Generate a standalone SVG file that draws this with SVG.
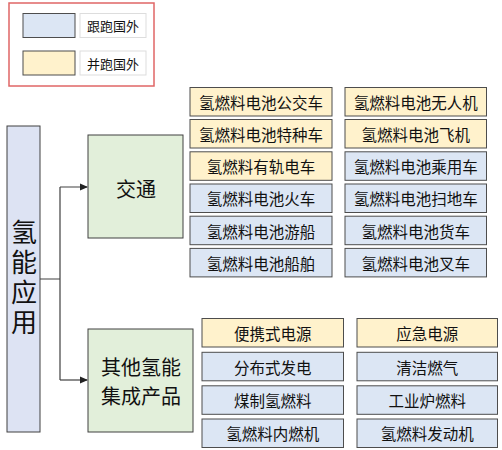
<svg xmlns="http://www.w3.org/2000/svg" width="502" height="450" viewBox="0 0 502 450">
<defs>
<style>
text{font-family:"Noto Sans CJK SC","Liberation Sans",sans-serif;fill:#111;text-anchor:middle;dominant-baseline:central}
.o{fill:#fff2cc;stroke:#4d4d4d;stroke-width:1}
.b{fill:#dce6f4;stroke:#4d4d4d;stroke-width:1}
.it{font-size:15.5px}
.g{fill:#e2efda;stroke:#404040;stroke-width:1}
.c{fill:none;stroke:#404040;stroke-width:1.2}
</style>
<marker id="ar" markerWidth="8" markerHeight="8" refX="7" refY="4" orient="auto" markerUnits="userSpaceOnUse">
<path d="M0,0.5 L8,4 L0,7.5 Z" fill="#222"/>
</marker>
</defs>
<g id="legend">
<rect x="9" y="3" width="145" height="83" fill="#fff" stroke="#e06666" stroke-width="1.5"/>
<rect x="23" y="13.5" width="52" height="24" class="b" stroke="#666"/>
<rect x="80" y="13.5" width="66" height="24" fill="#fff" stroke="#ddd"/>
<text x="113" y="25.5" font-size="13">跟跑国外</text>
<rect x="23" y="51" width="52" height="24" class="o"/>
<rect x="80" y="51" width="66" height="24" fill="#fff" stroke="#ddd"/>
<text x="113" y="63" font-size="13">并跑国外</text>
</g>
<g id="connectors">
<path class="c" d="M40,279 H60 M60,187 V380 M60,187 H87" marker-end="url(#ar)"/>
<path class="c" d="M60,380 H87" marker-end="url(#ar)"/>
</g>
<g id="root">
<rect x="7" y="126" width="33" height="306" fill="#dde3f3" stroke="#404040"/>
<text x="24" y="279" font-size="26" writing-mode="vertical-rl" letter-spacing="4">氢能应用</text>
</g>
<g id="transport">
<rect x="88" y="135" width="95" height="103" class="g"/>
<text x="136" y="188" font-size="20">交通</text>
</g>
<g id="other">
<rect x="88" y="329" width="105" height="103" class="g"/>
<text x="141" y="366" font-size="20">其他氢能</text>
<text x="141" y="395" font-size="20">集成产品</text>
</g>
<g id="t1"><rect x="190" y="87.5" width="142" height="28.5" class="o"/><text class="it" x="261" y="102">氢燃料电池公交车</text></g>
<g id="t2"><rect x="190" y="119.5" width="142" height="28.5" class="o"/><text class="it" x="261" y="134">氢燃料电池特种车</text></g>
<g id="t3"><rect x="190" y="151.8" width="142" height="28.5" class="o"/><text class="it" x="261" y="166">氢燃料有轨电车</text></g>
<g id="t4"><rect x="190" y="184" width="142" height="28.5" class="b"/><text class="it" x="261" y="198.3">氢燃料电池火车</text></g>
<g id="t5"><rect x="190" y="216.2" width="142" height="28.5" class="b"/><text class="it" x="261" y="230.5">氢燃料电池游船</text></g>
<g id="t6"><rect x="190" y="248.4" width="142" height="28.5" class="b"/><text class="it" x="261" y="262.7">氢燃料电池船舶</text></g>
<g id="t7"><rect x="345" y="87.5" width="141.5" height="28.5" class="o"/><text class="it" x="415.8" y="102">氢燃料电池无人机</text></g>
<g id="t8"><rect x="345" y="119.5" width="141.5" height="28.5" class="o"/><text class="it" x="415.8" y="134">氢燃料电池飞机</text></g>
<g id="t9"><rect x="345" y="151.8" width="141.5" height="28.5" class="b"/><text class="it" x="415.8" y="166">氢燃料电池乘用车</text></g>
<g id="t10"><rect x="345" y="184" width="141.5" height="28.5" class="b"/><text class="it" x="415.8" y="198.3">氢燃料电池扫地车</text></g>
<g id="t11"><rect x="345" y="216.2" width="141.5" height="28.5" class="b"/><text class="it" x="415.8" y="230.5">氢燃料电池货车</text></g>
<g id="t12"><rect x="345" y="248.4" width="141.5" height="28.5" class="b"/><text class="it" x="415.8" y="262.7">氢燃料电池叉车</text></g>
<g id="p1"><rect x="202" y="318.5" width="141.5" height="28.5" class="o"/><text class="it" x="272.8" y="332.8">便携式电源</text></g>
<g id="p2"><rect x="202" y="352.3" width="141.5" height="28.5" class="b"/><text class="it" x="272.8" y="366.5">分布式发电</text></g>
<g id="p3"><rect x="202" y="385.8" width="141.5" height="28.5" class="b"/><text class="it" x="272.8" y="400">煤制氢燃料</text></g>
<g id="p4"><rect x="202" y="419" width="141.5" height="28.5" class="b"/><text class="it" x="272.8" y="433.2">氢燃料内燃机</text></g>
<g id="p5"><rect x="357" y="318.5" width="140.5" height="28.5" class="o"/><text class="it" x="427.2" y="332.8">应急电源</text></g>
<g id="p6"><rect x="357" y="352.3" width="140.5" height="28.5" class="b"/><text class="it" x="427.2" y="366.5">清洁燃气</text></g>
<g id="p7"><rect x="357" y="385.8" width="140.5" height="28.5" class="b"/><text class="it" x="427.2" y="400">工业炉燃料</text></g>
<g id="p8"><rect x="357" y="419" width="140.5" height="28.5" class="b"/><text class="it" x="427.2" y="433.2">氢燃料发动机</text></g>
</svg>
